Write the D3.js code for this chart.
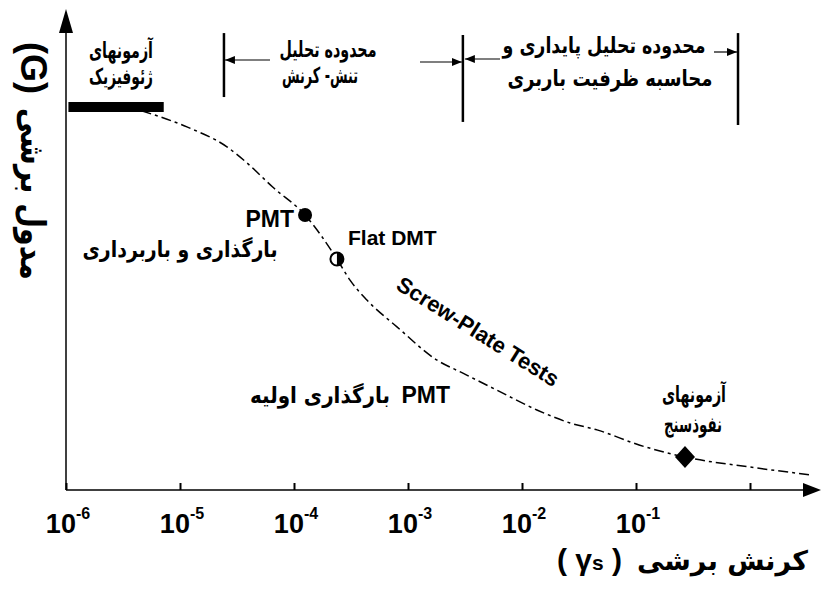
<!DOCTYPE html>
<html><head><meta charset="utf-8">
<script src="https://cdn.jsdelivr.net/npm/d3@7"></script>
<style>body{margin:0;background:#fff} svg{display:block}</style>
</head><body>
<svg id="chart" width="822" height="594"></svg>
<script>
// ---- data ----
const tickValues = [1e-6, 1e-5, 1e-4, 1e-3, 1e-2, 1e-1, 1];
const tickExponents = ["-6", "-5", "-4", "-3", "-2", "-1", ""];
const curveStrain = [4.6e-6, 1.15e-5, 2.58e-5, 3.87e-5, 6.5e-5, 1.25e-4, 2.38e-4, 3.1e-4, 4.36e-4, 8.0e-4, 1.8e-3, 3.03e-3, 6.0e-3, 1.35e-2, 2.64e-2, 4.55e-2, 0.108, 0.269, 1.0, 3.5];
const curveModulus = [0.99, 0.948, 0.896, 0.854, 0.791, 0.718, 0.603, 0.548, 0.496, 0.426, 0.339, 0.305, 0.261, 0.209, 0.175, 0.157, 0.117, 0.086, 0.060, 0.039];
const markerStrain = [1.25e-4, 2.38e-4, 0.269];
const markerModulus = [0.718, 0.603, 0.086];
const markerTypes = ["dot", "half", "diamond"];
const geoBarStrain = [1.05e-6, 7.2e-6];
const geoBarModulus = 1.0;
const rangeBoundaries = [2.43e-5, 3.03e-3, 0.785];

// ---- scales ----
const svg = d3.select("#chart");
const x = d3.scaleLog().domain([1e-6, 1]).range([66, 750]);
const y = d3.scaleLinear().domain([0, 1]).range([490, 107]);
const LAT = "'Liberation Sans', Arial, sans-serif";
const FA = "'DejaVu Sans', sans-serif";

// arrow marker
const defs = svg.append("defs");
defs.append("marker").attr("id", "ah").attr("viewBox", "0 0 10 8")
  .attr("refX", 10).attr("refY", 4).attr("markerWidth", 10).attr("markerHeight", 8)
  .attr("markerUnits", "userSpaceOnUse").attr("orient", "auto")
  .append("path").attr("d", "M0,0L10,4L0,8Z").attr("fill", "#000");

// ---- axes ----
const x0 = x(1e-6), yb = y(0);
svg.append("line").attr("x1", x0).attr("x2", x0).attr("y1", yb).attr("y2", 28)
  .attr("stroke", "#000").attr("stroke-width", 1.5);
svg.append("path").attr("d", `M${x0},9L${x0 + 7},33L${x0 - 7},33Z`).attr("fill", "#000");
svg.append("line").attr("x1", x0).attr("x2", 806).attr("y1", yb).attr("y2", yb)
  .attr("stroke", "#000").attr("stroke-width", 1.5);
svg.append("path").attr("d", `M821,${yb}L803,${yb - 7}L803,${yb + 7}Z`).attr("fill", "#000");

const ax = svg.append("g").attr("transform", `translate(0,${yb})`)
  .call(d3.axisBottom(x).tickValues(tickValues).tickSize(-7).tickFormat(() => ""));
ax.select(".domain").remove();
ax.selectAll(".tick line").attr("stroke", "#000").attr("stroke-width", 2);

const tl = svg.append("g").selectAll("text").data(tickValues.filter((d, i) => tickExponents[i] !== ""))
  .join("text").attr("x", d => x(d) + 2).attr("y", 533)
  .attr("text-anchor", "middle").attr("font-family", LAT).attr("font-weight", "bold")
  .attr("font-size", 27);
tl.append("tspan").text("10");
tl.append("tspan").attr("dy", -14).attr("font-size", 16).text((d, i) => tickExponents[i]);

// axis titles
svg.append("text").attr("x", 808).attr("y", 570).attr("text-anchor", "end")
  .attr("font-family", FA).attr("font-weight", "bold").attr("font-size", 27).text("کرنش برشی");
const gl = svg.append("text").attr("x", 557).attr("y", 570).attr("text-anchor", "start")
  .attr("font-family", LAT).attr("font-weight", "bold").attr("font-size", 30);
gl.append("tspan").text("( γ");
gl.append("tspan").attr("font-size", 21).text("s");
gl.append("tspan").text(" )");

svg.append("text").attr("transform", "translate(21,68) rotate(90)").attr("text-anchor", "middle")
  .attr("font-family", LAT).attr("font-weight", "bold").attr("font-size", 36).text("(G)");
svg.append("text").attr("transform", "translate(21,194) rotate(90)").attr("text-anchor", "middle")
  .attr("font-family", FA).attr("font-weight", "bold").attr("font-size", 34)
  .attr("textLength", 172).attr("lengthAdjust", "spacingAndGlyphs").text("مدول برشی");

// ---- range boundaries ----
const bTop = [1.193, 1.188, 1.193], bBot = [1.026, 0.961, 0.953];
svg.append("g").selectAll("line").data(rangeBoundaries).join("line")
  .attr("x1", d => x(d)).attr("x2", d => x(d))
  .attr("y1", (d, i) => y(bTop[i])).attr("y2", (d, i) => y(bBot[i]))
  .attr("stroke", "#000").attr("stroke-width", 2.5);
const arrows = [
  [270, x(rangeBoundaries[0]) + 1, 60],
  [420, x(rangeBoundaries[1]) - 1, 62],
  [500, x(rangeBoundaries[1]) + 2, 59],
  [714, x(rangeBoundaries[2]) - 1, 52]
];
svg.append("g").selectAll("line").data(arrows).join("line")
  .attr("x1", d => d[0]).attr("x2", d => d[1]).attr("y1", d => d[2]).attr("y2", d => d[2])
  .attr("stroke", "#000").attr("stroke-width", 1.2).attr("marker-end", "url(#ah)");

// ---- geophysical bar ----
svg.append("line").attr("x1", x(geoBarStrain[0])).attr("x2", x(geoBarStrain[1]))
  .attr("y1", y(geoBarModulus)).attr("y2", y(geoBarModulus))
  .attr("stroke", "#000").attr("stroke-width", 10);

// ---- curve ----
const pts = curveStrain.map((s, i) => [x(s), y(curveModulus[i])]);
svg.append("path").attr("d", d3.line().curve(d3.curveMonotoneX)(pts))
  .attr("fill", "none").attr("stroke", "#000").attr("stroke-width", 1.5)
  .attr("stroke-dasharray", "10,4,3,4");

// ---- markers ----
markerTypes.forEach((t, i) => {
  const cx = x(markerStrain[i]), cy = y(markerModulus[i]);
  if (t === "dot") {
    svg.append("circle").attr("cx", cx).attr("cy", cy).attr("r", 7).attr("fill", "#000");
  } else if (t === "half") {
    svg.append("circle").attr("cx", cx).attr("cy", cy).attr("r", 6.5).attr("fill", "#fff")
      .attr("stroke", "#000").attr("stroke-width", 2);
    svg.append("path").attr("d", `M${cx},${cy - 6.5}A6.5,6.5 0 0 1 ${cx},${cy + 6.5}Z`).attr("fill", "#000");
  } else {
    svg.append("path").attr("d", `M${cx},${cy - 11}L${cx + 10},${cy}L${cx},${cy + 11}L${cx - 10},${cy}Z`)
      .attr("fill", "#000");
  }
});

// ---- annotations ----
function fa(txt, px, py, size, len, anchor) {
  svg.append("text").attr("x", px).attr("y", py).attr("text-anchor", anchor || "middle")
    .attr("font-family", FA).attr("font-weight", "bold").attr("font-size", size)
    .attr("textLength", len).attr("lengthAdjust", "spacingAndGlyphs").text(txt);
}
fa("آزمونهای", 121, 58, 22, 64);
fa("ژئوفیزیک", 121, 84, 22, 64);
fa("محدوده تحلیل", 328, 57, 22, 97);
fa("تنش- کرنش", 320, 83, 22, 76);
fa("محدوده تحلیل پایداری و", 604, 53, 22, 203);
fa("محاسبه ظرفیت باربری", 610, 86, 22, 205);
fa("بارگذاری و باربرداری", 180, 257, 22, 195);
fa("بارگذاری اولیه", 390, 403, 22, 140, "end");
fa("آزمونهای", 694, 402, 22, 64);
fa("نفوذسنج", 693, 432, 22, 58);

function lat(txt, px, py, size, anchor) {
  return svg.append("text").attr("x", px).attr("y", py).attr("text-anchor", anchor || "start")
    .attr("font-family", LAT).attr("font-weight", "bold").attr("font-size", size).text(txt);
}
lat("PMT", 294, 227, 23, "end");
lat("Flat DMT", 348, 245, 21, "start");
lat("PMT", 450, 403, 23, "end");
lat("Screw-Plate Tests", 0, 0, 22, "middle").attr("transform", "translate(474,338) rotate(32)");
</script>
</body></html>
